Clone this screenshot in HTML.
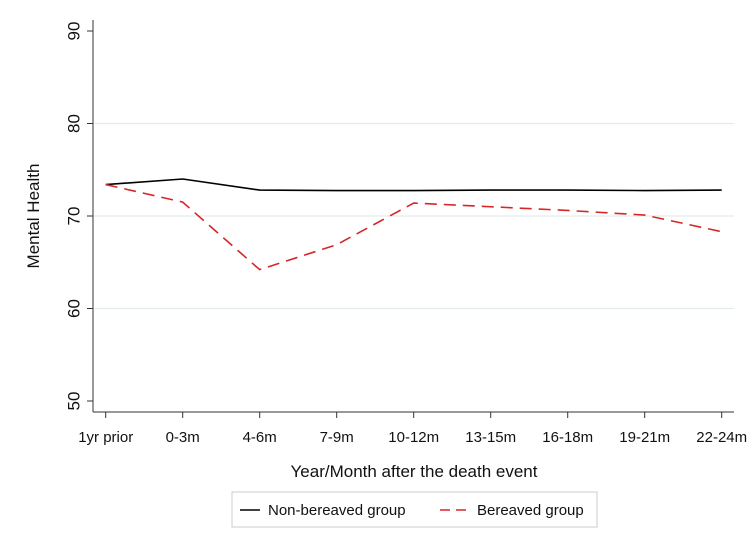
<!DOCTYPE html>
<html><head><meta charset="utf-8"><style>
body{margin:0;background:#fff;font-family:"Liberation Sans",Arial,sans-serif}
svg{display:block}
</style></head><body>
<svg id="chart" width="754" height="554" viewBox="0 0 754 554" xmlns="http://www.w3.org/2000/svg">
<rect width="754" height="554" fill="#fff"/>
<g id="grid"></g>
<line x1="93" y1="20" x2="93" y2="412" stroke="#333" stroke-width="1"/>
<line x1="93" y1="412" x2="734" y2="412" stroke="#333" stroke-width="1"/>
<g id="yticks"></g>
<g id="xticks"></g>
<g id="series"></g>
<text x="39" y="216" transform="rotate(-90 39 216)" text-anchor="middle" font-size="17" fill="#111">Mental Health</text>
<text x="414" y="477" text-anchor="middle" font-size="17" fill="#111">Year/Month after the death event</text>
<g>
<rect x="232" y="492" width="365" height="35" fill="#fff" stroke="#ccc"/>
<line x1="240" y1="510" x2="260" y2="510" stroke="#000" stroke-width="1.5"/>
<text x="268" y="515" font-size="15" fill="#111">Non-bereaved group</text>
<line x1="440" y1="510" x2="470" y2="510" stroke="#d62728" stroke-width="1.5" stroke-dasharray="10,6"/>
<text x="477" y="515" font-size="15" fill="#111">Bereaved group</text>
</g>
</svg>
<script>
const categories = ["1yr prior","0-3m","4-6m","7-9m","10-12m","13-15m","16-18m","19-21m","22-24m"];
const nonBereaved = [73.4, 74.0, 72.8, 72.75, 72.75, 72.8, 72.8, 72.75, 72.8];
const bereaved = [73.4, 71.5, 64.2, 66.9, 71.4, 71.0, 70.6, 70.1, 68.3];
const yTicks = [50, 60, 70, 80, 90];
const gridValues = [60, 70, 80];

const NS = "http://www.w3.org/2000/svg";
function xPos(i){ return 105.7 + i*77; }
function yPos(v){ return 401 - (v-50)*(401-31)/40; }
function mk(tag, attrs, parent){ const e=document.createElementNS(NS,tag); for(const k in attrs) e.setAttribute(k,attrs[k]); parent.appendChild(e); return e; }

const grid=document.getElementById('grid');
gridValues.forEach(v=>{
  const l=mk('line',{x1:94,x2:734,y1:yPos(v),y2:yPos(v),stroke:'#e3ecee','stroke-width':1.2},grid);
  
  
});
const yt=document.getElementById('yticks');
yTicks.forEach(v=>{
  const y=yPos(v);
  const l=mk('line',{x1:87,x2:93,y1:y,y2:y,stroke:'#333'},yt);
  
  
  const t=mk('text',{x:75,y:y,'text-anchor':'middle','font-size':17,fill:'#111',transform:`rotate(-90 75 ${y})`,'dominant-baseline':'middle'},yt);
  t.textContent=v;
  
  
});
const xt=document.getElementById('xticks');
categories.forEach((c,i)=>{
  const x=xPos(i);
  const l=mk('line',{x1:x,x2:x,y1:412,y2:418,stroke:'#333'},xt);
  
  
  const t=mk('text',{x:x,y:442,'text-anchor':'middle','font-size':15,fill:'#111'},xt);
  t.textContent=c;
  
  
});
const s=document.getElementById('series');
function pts(arr){ return arr.map((v,i)=>xPos(i)+','+yPos(v)).join(' '); }
const p1=mk('polyline',{points:pts(nonBereaved),fill:'none',stroke:'#000','stroke-width':1.6},s);


const p2=mk('polyline',{points:pts(bereaved),fill:'none',stroke:'#d62728','stroke-width':1.6,'stroke-dasharray':'12,7'},s);


</script>
</body></html>
